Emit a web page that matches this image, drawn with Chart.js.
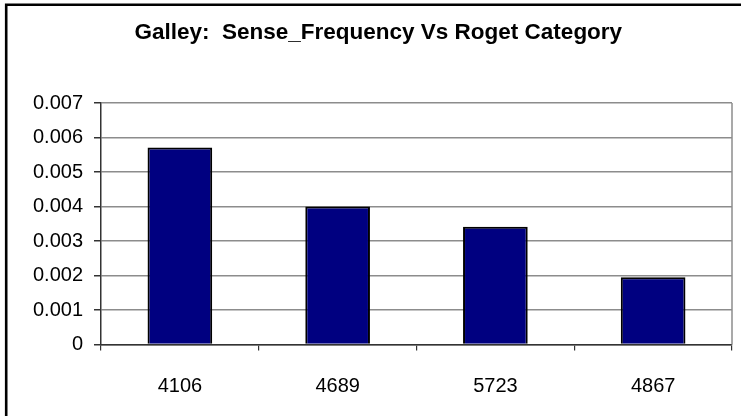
<!DOCTYPE html>
<html>
<head>
<meta charset="utf-8">
<script src="https://cdn.jsdelivr.net/npm/chart.js@4/dist/chart.umd.min.js"></script>
<style>
  html, body { margin: 0; padding: 0; background: #ffffff; }
  #wrap { width: 741px; height: 416px; position: relative; }
</style>
</head>
<body>
<div id="wrap"><canvas id="c" width="741" height="416"></canvas></div>
<script>
// Roget categories and their sense frequencies for "Galley"
const categories = ['4106', '4689', '5723', '4867'];
const senseFrequency = [0.00571, 0.0040, 0.00341, 0.00195];
const yTicks = [0, 0.001, 0.002, 0.003, 0.004, 0.005, 0.006, 0.007];
const chartTitle = 'Galley:  Sense_Frequency Vs Roget Category';

const FONT = "'Liberation Sans', Arial, sans-serif";

// Outer frame lines plus the grey right-hand edge of the plot area
const framePlugin = {
  id: 'frame',
  beforeDraw(chart) {
    const ctx = chart.ctx;
    ctx.save();
    ctx.fillStyle = '#ffffff';
    ctx.fillRect(0, 0, chart.width, chart.height);
    ctx.strokeStyle = '#000000';
    ctx.lineWidth = 2.6;
    ctx.beginPath();
    ctx.moveTo(6.2, chart.height + 5);
    ctx.lineTo(6.2, 4.7);
    ctx.lineTo(chart.width + 5, 4.7);
    ctx.stroke();
    ctx.restore();
  },
  afterDatasetsDraw(chart) {
    const a = chart.chartArea;
    const ctx = chart.ctx;
    ctx.save();
    ctx.strokeStyle = '#8c8c8c';
    ctx.lineWidth = 1.5;
    ctx.beginPath();
    ctx.moveTo(a.right, a.top);
    ctx.lineTo(a.right, a.bottom);
    ctx.stroke();
    ctx.restore();
  }
};

new Chart(document.getElementById('c'), {
  type: 'bar',
  data: {
    labels: categories,
    datasets: [{
      data: senseFrequency,
      backgroundColor: '#000080',
      borderColor: '#000000',
      borderWidth: 2,
      categoryPercentage: 1.0,
      barPercentage: 0.41
    }]
  },
  options: {
    responsive: false,
    animation: false,
    layout: { padding: { left: 24.6, right: 9, top: 0, bottom: 0 } },
    plugins: {
      legend: { display: false },
      tooltip: { enabled: false },
      title: {
        display: true,
        text: chartTitle,
        color: '#000000',
        font: { family: FONT, size: 22.5, weight: 'bold', lineHeight: 1.2 },
        padding: { top: 19, bottom: 57 }
      }
    },
    scales: {
      x: {
        offset: true,
        grid: {
          offset: true,
          drawOnChartArea: false,
          drawTicks: true,
          tickLength: 6,
          color: '#333333',
          tickColor: '#333333',
          lineWidth: 1.2
        },
        border: { display: true, color: '#333333', width: 1.5 },
        ticks: {
          color: '#000000',
          font: { family: FONT, size: 20 },
          padding: 24,
          maxRotation: 0
        },
        afterFit(scale) { scale.height = 416 - 344.5; }
      },
      y: {
        min: 0,
        max: 0.007,
        afterBuildTicks(scale) {
          scale.ticks = yTicks.map(v => ({ value: v }));
        },
        grid: {
          color: '#8c8c8c',
          lineWidth: 1.5,
          drawTicks: true,
          tickLength: 7,
          tickColor: '#333333'
        },
        border: { display: true, color: '#333333', width: 1.5 },
        ticks: {
          color: '#000000',
          font: { family: FONT, size: 20 },
          padding: 11,
          callback: v => (v === 0 ? '0' : v.toFixed(3))
        },
        afterFit(scale) { scale.width = 101 - 24.6; }
      }
    }
  },
  plugins: [framePlugin]
});
</script>
</body>
</html>
